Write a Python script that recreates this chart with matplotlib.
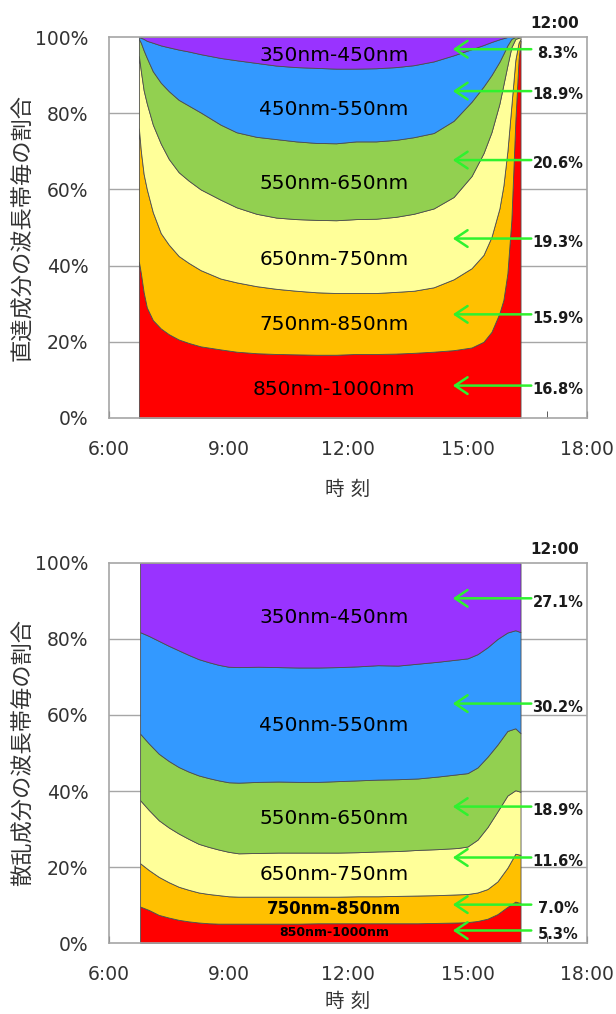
import numpy as np
import matplotlib
matplotlib.use("Agg")
import matplotlib.pyplot as plt
from matplotlib.ticker import FixedLocator, FuncFormatter

plt.rcParams["font.family"] = ["DejaVu Sans", "Noto Sans CJK JP"]

# band order from bottom to top
BANDS = ["850nm-1000nm", "750nm-850nm", "650nm-750nm",
         "550nm-650nm", "450nm-550nm", "350nm-450nm"]
COLORS = ["#FF0000", "#FFC000", "#FFFF99", "#92D050", "#3399FF", "#9933FF"]

# ---- direct component: time (h) and cumulative upper edge of each band (%)
T_DIRECT = [6.75, 6.8, 6.87, 6.95, 7.1, 7.3, 7.5, 7.75, 8.0, 8.3, 8.8, 9.2,
            9.7, 10.2, 10.7, 11.2, 11.7, 12.2, 12.7, 13.2, 13.65, 14.15,
            14.65, 15.1, 15.4, 15.6, 15.8, 15.9, 16.0, 16.1, 16.2, 16.28, 16.33]
D_RED = [41, 38, 33, 29, 25.7, 23.5, 22, 20.6, 19.7, 18.8, 18.0, 17.4,
         17.0, 16.8, 16.7, 16.6, 16.6, 16.8, 16.8, 16.9, 17.1, 17.4,
         17.8, 18.5, 20.0, 22.6, 27.5, 31, 38, 52, 78, 94, 99]
D_ORANGE = [76, 70, 64, 60, 54, 48.5, 45.5, 42.5, 40.7, 38.8, 36.6, 35.6,
            34.6, 33.9, 33.4, 33.0, 32.8, 32.8, 32.8, 33.1, 33.4, 34.3,
            36.4, 39.3, 42.8, 47.5, 55, 61, 70, 82, 94, 98.5, 99.5]
D_YELLOW = [95, 91, 86, 82.5, 77, 72, 68, 64.5, 62.3, 60, 57.3, 55.3,
            53.6, 52.6, 52.2, 52.0, 51.9, 52.2, 52.3, 52.8, 53.6, 55,
            58, 63.5, 69.5, 75, 82.5, 87.5, 92.5, 97.3, 99.5, 99.8, 100]
D_GREEN = [99.5, 98.5, 96.5, 94.5, 91, 88, 85.8, 83.5, 82, 80.2, 77, 75,
           73.8, 73.2, 72.6, 72.2, 72.1, 72.6, 72.6, 73, 73.7, 74.8,
           78, 83, 87, 90, 93.5, 95.6, 97.8, 99.5, 100, 100, 100]
D_BLUE = [100, 99.8, 99.5, 99, 98.5, 97.8, 97.3, 96.7, 96.2, 95.5, 94.5, 93.9,
          93.2, 92.5, 92.1, 91.9, 91.7, 91.7, 91.8, 92.1, 92.6, 93.6,
          95.2, 96.8, 97.9, 98.7, 99.4, 99.7, 100, 100, 100, 100, 100]

# ---- diffuse component
T_DIFFUSE = [6.78, 7.0, 7.25, 7.5, 7.75, 8.0, 8.25, 8.5, 8.75, 9.0, 9.25,
             9.75, 10.25, 10.75, 11.25, 11.75, 12.25, 12.75, 13.25, 13.75,
             14.25, 14.75, 15.0, 15.25, 15.5, 15.75, 16.0, 16.2, 16.33]
S_RED = [9.6, 8.7, 7.4, 6.7, 6.1, 5.7, 5.4, 5.2, 5.1, 5.1, 5.1,
         5.1, 5.1, 5.1, 5.2, 5.2, 5.2, 5.2, 5.2, 5.2,
         5.3, 5.4, 5.5, 5.8, 6.4, 7.6, 9.5, 10.9, 10.5]
S_ORANGE = [21, 19.2, 17.4, 16.0, 14.8, 14.0, 13.3, 12.9, 12.6, 12.3, 12.2,
            12.2, 12.2, 12.2, 12.2, 12.2, 12.3, 12.3, 12.4, 12.5,
            12.6, 12.8, 12.9, 13.3, 14.2, 16.2, 19.8, 23.5, 23.2]
S_YELLOW = [37.6, 35, 32.3, 30.4, 28.8, 27.4, 26.1, 25.3, 24.6, 24.0, 23.6,
            23.7, 23.8, 23.8, 23.8, 23.8, 23.9, 24.1, 24.2, 24.5,
            24.7, 25.0, 25.4, 27.2, 30.5, 34.6, 38.8, 40.2, 39.8]
S_GREEN = [55.1, 52.5, 49.8, 47.9, 46.3, 45.1, 44.1, 43.4, 42.8, 42.3, 42.2,
           42.4, 42.5, 42.4, 42.4, 42.6, 42.8, 43.0, 43.1, 43.3,
           43.8, 44.4, 44.7, 46.2, 49, 52.2, 55.8, 56.5, 55.2]
S_BLUE = [81.8, 80.8, 79.5, 78.2, 77, 75.8, 74.7, 73.9, 73.2, 72.7, 72.6,
          72.7, 72.6, 72.5, 72.5, 72.6, 72.8, 73.1, 73.0, 73.5,
          74.0, 74.6, 74.9, 76, 77.8, 80, 81.7, 82.3, 81.8]

# band shares at 12:00 and where they are annotated (% height)
DIRECT_NOON = ["16.8%", "15.9%", "19.3%", "20.6%", "18.9%", "8.3%"]
DIRECT_NOON_Y = [8.5, 27.2, 47.1, 67.7, 85.8, 96.8]
DIRECT_LABEL_Y = [7.6, 24.6, 41.7, 61.6, 81.1, 95.2]
DIFFUSE_NOON = ["5.3%", "7.0%", "11.6%", "18.9%", "30.2%", "27.1%"]
DIFFUSE_NOON_Y = [3.3, 10.1, 22.5, 35.9, 63.0, 90.7]
DIFFUSE_LABEL_Y = [2.8, 8.9, 17.9, 32.8, 57.3, 85.7]
DIFFUSE_LABEL_STYLE = [(9, "bold"), (12, "bold"), (14.5, "normal"),
                       (14.5, "normal"), (14.5, "normal"), (14.5, "normal")]

HOUR_LABELS = [6, 9, 12, 15, 18]
GRID = "#A6A6A6"
ARROW = "#2EF22E"
TEXT = "#333333"


def draw_panel(ax, t, edges, noon, noon_y, label_y, label_style, ylabel, xlab_y):
    edges = np.vstack([np.zeros(len(t))] + [np.array(e) for e in edges]
                      + [np.full(len(t), 100.0)])
    shares = np.diff(edges, axis=0)
    ax.stackplot(t, shares, colors=COLORS, edgecolor="#4D4D4D",
                 linewidth=0.6, zorder=2)

    ax.set_xlim(6, 18)
    ax.set_ylim(0, 100)
    for y in (20, 40, 60, 80):
        ax.axhline(y, color=GRID, lw=1.0, zorder=1)
    for s in ax.spines.values():
        s.set_color(GRID)
        s.set_linewidth(1.2)
        s.set_zorder(3)

    ax.xaxis.set_major_locator(FixedLocator(HOUR_LABELS))
    ax.xaxis.set_minor_locator(FixedLocator(range(7, 18)))
    ax.xaxis.set_major_formatter(FuncFormatter(lambda v, p: f"{int(v)}:00"))
    ax.tick_params(axis="x", which="both", direction="in", length=5,
                   color="#404040", pad=16, labelsize=13.5, labelcolor=TEXT)
    ax.set_yticks([0, 20, 40, 60, 80, 100])
    ax.yaxis.set_major_formatter(FuncFormatter(lambda v, p: f"{int(v)}%"))
    ax.tick_params(axis="y", length=0, pad=15, labelsize=13.5, labelcolor=TEXT)
    for tk in ax.xaxis.get_major_ticks() + ax.xaxis.get_minor_ticks():
        tk.tick1line.set_zorder(4)

    ax.set_ylabel(ylabel, fontsize=16, color=TEXT)
    ax.yaxis.set_label_coords(-0.158, 0.5)
    ax.set_xlabel("時 刻", fontsize=14, color=TEXT)
    ax.xaxis.set_label_coords(0.5, xlab_y)

    for name, ly, (fs, fw) in zip(BANDS, label_y, label_style):
        ax.text(11.65, ly, name, ha="center", va="center", fontsize=fs,
                fontweight=fw, color="black", zorder=5)

    for txt, ny in zip(noon, noon_y):
        ax.annotate("", xy=(14.63, ny), xytext=(16.6, ny),
                    arrowprops=dict(arrowstyle="->,head_length=0.45,head_width=0.3",
                                    color=ARROW, lw=1.8, mutation_scale=20,
                                    shrinkA=0, shrinkB=0), zorder=6)
        ax.text(17.27, ny - 1.0, txt, ha="center", va="center", fontsize=10.5,
                fontweight="bold", color="#1A1A1A", zorder=6)
    ax.text(17.2, 103.6, "12:00", ha="center", va="center", fontsize=11,
            fontweight="bold", color="#1A1A1A", clip_on=False)


fig = plt.figure(figsize=(6.16, 10.14), dpi=100)
ax1 = fig.add_axes([0.177, 0.5878, 0.776, 0.3757])
ax2 = fig.add_axes([0.177, 0.0700, 0.776, 0.3748])

draw_panel(ax1, T_DIRECT, [D_RED, D_ORANGE, D_YELLOW, D_GREEN, D_BLUE],
           DIRECT_NOON, DIRECT_NOON_Y, DIRECT_LABEL_Y,
           [(14.5, "normal")] * 6, "直達成分の波長帯毎の割合", -0.163)
draw_panel(ax2, T_DIFFUSE, [S_RED, S_ORANGE, S_YELLOW, S_GREEN, S_BLUE],
           DIFFUSE_NOON, DIFFUSE_NOON_Y, DIFFUSE_LABEL_Y,
           DIFFUSE_LABEL_STYLE, "散乱成分の波長帯毎の割合", -0.13)

fig.savefig("out.png", dpi=100)
